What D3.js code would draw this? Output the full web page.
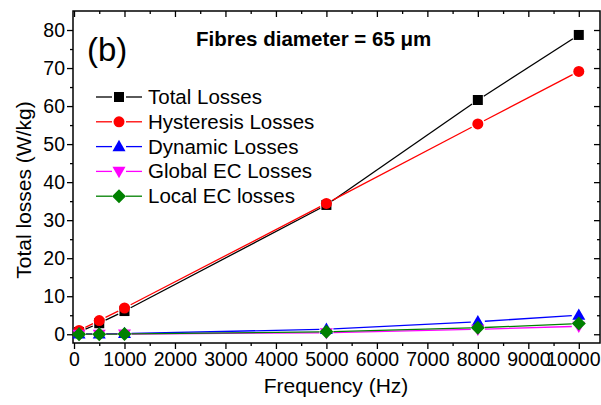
<!DOCTYPE html>
<html>
<head>
<meta charset="utf-8">
<script src="https://cdn.jsdelivr.net/npm/d3@7"></script>
<style>
  body { margin: 0; background: #fff; }
  svg { display: block; font-family: Arial, "Liberation Sans", sans-serif; }
</style>
</head>
<body>
<div id="chart"></div>
<script>
// --- data ---
const freq = [100, 500, 1000, 5000, 8000, 10000];
const totalLosses = [0.6, 2.9, 6.1, 34.0, 61.6, 78.7];
const hystLosses = [1.0, 3.6, 6.9, 34.4, 55.3, 69.1];
const dynLosses = [0.1, 0.1, 0.2, 1.3, 3.3, 5.0];
const globalEC = [0.0, 0.0, 0.05, 0.4, 1.3, 2.1];
const localEC = [0.0, 0.03, 0.07, 0.65, 1.7, 2.8];
const xTicks = [0, 1000, 2000, 3000, 4000, 5000, 6000, 7000, 8000, 9000, 10000];
const yTicks = [0, 10, 20, 30, 40, 50, 60, 70, 80];

const series = [
  {name: "Total Losses", values: totalLosses, color: "#000000", shape: "square"},
  {name: "Hysteresis Losses", values: hystLosses, color: "#ff0000", shape: "circle"},
  {name: "Dynamic Losses", values: dynLosses, color: "#0000ff", shape: "up"},
  {name: "Global EC Losses", values: globalEC, color: "#ff00ff", shape: "down"},
  {name: "Local EC losses", values: localEC, color: "#008000", shape: "diamond"}
];

const W = 601, H = 405;
const plot = {left: 73, right: 600, top: 11, bottom: 343};

const svg = d3.select("#chart").append("svg")
  .attr("width", W).attr("height", H);

const x = d3.scaleLinear().domain([-20, 10420]).range([plot.left, plot.right]);
const y = d3.scaleLinear().domain([-2.3, 85]).range([plot.bottom, plot.top]);

// --- assen (Origin-stijl: links/onder naar buiten, boven/rechts naar binnen) ---
const xMinor = d3.range(500, 10001, 1000);
const yMinor = d3.range(5, 81, 10);

const axB = svg.append("g").attr("transform", `translate(0,${plot.bottom})`)
  .call(d3.axisBottom(x).tickValues(xTicks).tickSize(6).tickPadding(3).tickFormat(d3.format("d")));
svg.append("g").attr("transform", `translate(0,${plot.bottom})`)
  .call(d3.axisBottom(x).tickValues(xMinor).tickSize(3).tickFormat(""));
const axL = svg.append("g").attr("transform", `translate(${plot.left},0)`)
  .call(d3.axisLeft(y).tickValues(yTicks).tickSize(6).tickPadding(2));
svg.append("g").attr("transform", `translate(${plot.left},0)`)
  .call(d3.axisLeft(y).tickValues(yMinor).tickSize(3).tickFormat(""));
svg.append("g").attr("transform", `translate(0,${plot.top})`)
  .call(d3.axisBottom(x).tickValues(xTicks).tickSize(6).tickFormat(""));
svg.append("g").attr("transform", `translate(0,${plot.top})`)
  .call(d3.axisBottom(x).tickValues(xMinor).tickSize(3).tickFormat(""));
svg.append("g").attr("transform", `translate(${plot.right},0)`)
  .call(d3.axisLeft(y).tickValues(yTicks).tickSize(6).tickFormat(""));
svg.append("g").attr("transform", `translate(${plot.right},0)`)
  .call(d3.axisLeft(y).tickValues(yMinor).tickSize(3).tickFormat(""));

svg.selectAll(".domain").remove();
svg.selectAll(".tick line").attr("stroke", "#000").attr("stroke-width", 1.3);
axB.selectAll("text").attr("font-size", 19.5).attr("fill", "#000");
axL.selectAll("text").attr("font-size", 19.5).attr("fill", "#000");

// laatste label (10000) past anders niet binnen het beeld
axB.selectAll(".tick text").filter(d => d === 10000)
  .attr("text-anchor", "end")
  .attr("x", W - 1 - x(10000));

svg.append("rect")
  .attr("x", plot.left).attr("y", plot.top)
  .attr("width", plot.right - plot.left).attr("height", plot.bottom - plot.top)
  .attr("fill", "none").attr("stroke", "#000").attr("stroke-width", 1.5);

// --- labels ---
svg.append("text").attr("x", 336).attr("y", 393).attr("text-anchor", "middle")
  .attr("font-size", 21).text("Frequency (Hz)");
svg.append("text").attr("transform", "translate(31,190) rotate(-90)")
  .attr("text-anchor", "middle").attr("font-size", 21).text("Total losses (W/kg)");
svg.append("text").attr("x", 87).attr("y", 61).attr("font-size", 33).text("(b)");
svg.append("text").attr("x", 196).attr("y", 46).attr("font-size", 20.5)
  .attr("font-weight", "bold").text("Fibres diameter = 65 μm");

// --- symbolen ---
function symbolPath(shape) {
  switch (shape) {
    case "square": return "M-5,-5H5V5H-5Z";
    case "circle": return d3.symbol(d3.symbolCircle, 95)();
    case "up": return "M0,-6.8L6.5,4.6L-6.5,4.6Z";
    case "down": return "M0,6.8L6.5,-4.6L-6.5,-4.6Z";
    case "diamond": return "M0,-7L7,0L0,7L-7,0Z";
  }
}

// lijnsegmenten met kleine onderbreking bij de symbolen
const gap = 7;
series.forEach(s => {
  const g = svg.append("g");
  const pts = freq.map((f, i) => [x(f), y(s.values[i])]);
  for (let i = 0; i < pts.length - 1; i++) {
    const [x1, y1] = pts[i], [x2, y2] = pts[i + 1];
    const len = Math.hypot(x2 - x1, y2 - y1);
    if (len <= 2 * gap) continue;
    const ux = (x2 - x1) / len, uy = (y2 - y1) / len;
    g.append("line")
      .attr("x1", x1 + ux * gap).attr("y1", y1 + uy * gap)
      .attr("x2", x2 - ux * gap).attr("y2", y2 - uy * gap)
      .attr("stroke", s.color).attr("stroke-width", 1.3);
  }
  g.selectAll("path").data(pts).enter().append("path")
    .attr("transform", d => `translate(${d[0]},${d[1]})`)
    .attr("d", symbolPath(s.shape))
    .attr("fill", s.color);
});

// --- legenda ---
const leg = svg.append("g");
series.forEach((s, i) => {
  const yy = 97 + i * 24.8;
  leg.append("line").attr("x1", 96).attr("x2", 112).attr("y1", yy).attr("y2", yy)
    .attr("stroke", s.color).attr("stroke-width", 1.3);
  leg.append("line").attr("x1", 126).attr("x2", 142).attr("y1", yy).attr("y2", yy)
    .attr("stroke", s.color).attr("stroke-width", 1.3);
  leg.append("path").attr("transform", `translate(119,${yy})`)
    .attr("d", symbolPath(s.shape)).attr("fill", s.color);
  leg.append("text").attr("x", 148).attr("y", yy + 7).attr("font-size", 20.5).text(s.name);
});
</script>
</body>
</html>
